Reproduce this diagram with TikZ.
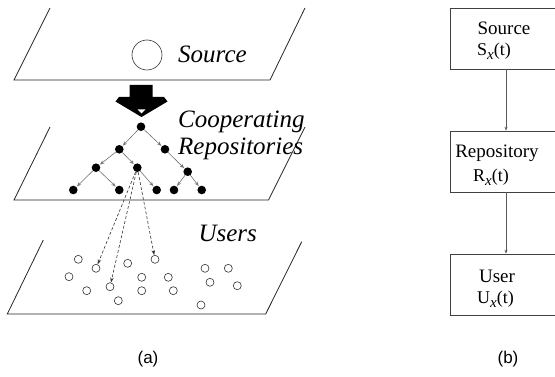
\documentclass[tikz,border=0pt]{standalone}
\usepackage{fontspec}
\setmainfont{Liberation Serif}
\newfontfamily\labfont{Liberation Sans}
\usetikzlibrary{arrows.meta}
\newcommand\lowx{\raisebox{-4pt}{\fontsize{15}{15}\selectfont\itshape x}}
\begin{document}
\begin{tikzpicture}[x=1pt,y=-1pt,
 plane/.style={draw=black!85, line width=0.8pt},
 dotnode/.style={circle, fill=black, minimum size=8.6pt, inner sep=0pt},
 usernode/.style={circle, draw=black!80, line width=0.6pt, minimum size=8pt, inner sep=0pt},
 srcnode/.style={circle, draw=black!80, line width=0.6pt, minimum size=30pt, inner sep=0pt},
 treearrow/.style={draw=black!55, line width=0.6pt, -{Stealth[open, length=4.5pt, width=3.5pt]}, shorten >=0.5pt},
 dasharrow/.style={draw=black!80, line width=0.6pt, dash pattern=on 3pt off 2pt, -{Stealth[length=5pt,width=3.5pt]}},
 bigtext/.style={font=\fontsize{25}{30}\selectfont\itshape, inner sep=0pt, anchor=base west},
 boxnode/.style={draw=black!75, line width=0.7pt, minimum width=108pt, minimum height=61pt, inner sep=0pt},
 boxtext/.style={font=\fontsize{19}{22}\selectfont, inner sep=0pt, anchor=base},
 boxtextw/.style={font=\fontsize{18}{21}\selectfont, inner sep=0pt, anchor=base west},
 flowarrow/.style={draw=black!65, line width=0.6pt, -{Stealth[length=4pt,width=3pt]}},
 panellabel/.style={font=\labfont\fontsize{17}{20}\selectfont, inner sep=0pt}]
\useasboundingbox (0,0) rectangle (555,377);
\clip (0,0) rectangle (555,377);
\fill[white] (0,0) rectangle (555,377);

% ---- planes
\draw[plane] (50,8) -- (14,80) -- (270,80) -- (305,8);
\draw[plane] (50,127) -- (14,200) -- (268.5,200) -- (305,127);
\draw[plane] (43.3,240) -- (7.3,314) -- (265.7,314) -- (301.7,241.7);

% ---- source
\node[srcnode] (src) at (147,55) {};
\node[bigtext] (srclab) at (178,63) {Source};

% ---- big arrow
\fill[black] (129.5,85) -- (152.5,85) -- (152.5,97) -- (164,97) -- (167.5,101.5) -- (141.5,117) -- (115.5,101.5) -- (119,97) -- (129.5,97) -- cycle;
\fill[white] (137.5,109.5) -- (145.5,109.5) -- (141.5,113.5) -- cycle;

% ---- repositories
\node[bigtext] (coop) at (178,127.3) {Cooperating};
\node[bigtext] (repo) at (178,155) {Repositories};

\node[dotnode] (n0) at (141,126.7) {};
\node[dotnode] (n1a) at (119.3,149.3) {};
\node[dotnode] (n1b) at (165,149.3) {};
\node[dotnode] (n2a) at (96,167.7) {};
\node[dotnode] (n2b) at (137.3,167.7) {};
\node[dotnode] (n2c) at (187.7,171.7) {};
\node[dotnode] (n3a) at (73.3,190) {};
\node[dotnode] (n3b) at (119.3,190) {};
\node[dotnode] (n3c) at (156.7,190) {};
\node[dotnode] (n3d) at (174,190) {};
\node[dotnode] (n3e) at (201.7,190) {};

\draw[treearrow] (n0) -- (n1a);
\draw[treearrow] (n0) -- (n1b);
\draw[treearrow] (n1a) -- (n2a);
\draw[treearrow] (n1a) -- (n2b);
\draw[treearrow] (n1b) -- (n2c);
\draw[treearrow] (n2a) -- (n3a);
\draw[treearrow] (n2a) -- (n3b);
\draw[treearrow] (n2b) -- (n3c);
\draw[treearrow] (n2c) -- (n3d);
\draw[treearrow] (n2c) -- (n3e);

% ---- users
\node[bigtext] (userslab) at (198.3,241.7) {Users};
\node[usernode] (u1) at (78.3,259.3) {};
\node[usernode] (u2) at (96,268.3) {};
\node[usernode] (u3) at (127.7,263.3) {};
\node[usernode] (u4) at (155,259.3) {};
\node[usernode] (u5) at (69,276.7) {};
\node[usernode] (u6) at (141.7,277.3) {};
\node[usernode] (u7) at (168.3,277.3) {};
\node[usernode] (u8) at (205,268.3) {};
\node[usernode] (u9) at (228.3,268.3) {};
\node[usernode] (u10) at (110,286.7) {};
\node[usernode] (u11) at (210,282.3) {};
\node[usernode] (u12) at (237.3,285.7) {};
\node[usernode] (u13) at (86.7,290.7) {};
\node[usernode] (u14) at (141.7,290.7) {};
\node[usernode] (u15) at (173.3,290.7) {};
\node[usernode] (u16) at (118.3,300.7) {};
\node[usernode] (u17) at (201,305) {};

\draw[dasharrow] (n2b) -- (u2);
\draw[dasharrow] (n2b) -- (u10);
\draw[dasharrow] (n2b) -- (u4);

\node[panellabel] (la) at (148,359) {(a)};

% ---- panel (b)
\coordinate (ax) at (506,0);
\node[boxnode] (sbox) at (504,38.5) {};
\node[boxnode] (rbox) at (504,161.5) {};
\node[boxnode] (ubox) at (504,284.5) {};

\node[boxtext] (st1) at (504,35) {Source};
\node[boxtextw] (st2) at (477,56) {S\lowx(t)};
\node[boxtext] (rt1) at (497,158) {Repository};
\node[boxtextw] (rt2) at (473,182) {R\lowx(t)};
\node[boxtext] (ut1) at (497,283) {User};
\node[boxtextw] (ut2) at (477,303) {U\lowx(t)};

\draw[flowarrow] (sbox.south -| ax) -- (rbox.north -| ax);
\draw[flowarrow] (rbox.south -| ax) -- (ubox.north -| ax);

\node[panellabel] (lb) at (508,359) {(b)};
\end{tikzpicture}
\end{document}
